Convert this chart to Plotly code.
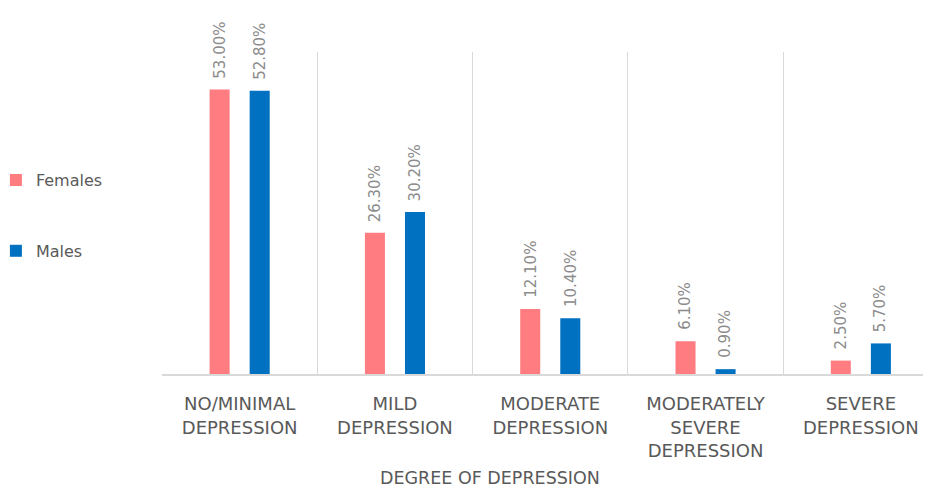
import plotly.graph_objects as go

categories = [
    "NO/MINIMAL<br>DEPRESSION",
    "MILD<br>DEPRESSION",
    "MODERATE<br>DEPRESSION",
    "MODERATELY<br>SEVERE<br>DEPRESSION",
    "SEVERE<br>DEPRESSION",
]
females = [53.0, 26.3, 12.1, 6.1, 2.5]
males = [52.8, 30.2, 10.4, 0.9, 5.7]
x_title = "DEGREE OF DEPRESSION"

# page has an 8px body margin; size the figure so it fills the window
W, H = 923, 483
L, R, T, B = 154, 0, 44, 117
cat_px = 155.3
plot_w = W - L - R
plot_h = H - T - B
bargap = 0.484

series = [("Females", females, "#FF7C80", "f", -1), ("Males", males, "#0070C0", "m", 1)]

fig = go.Figure()
annotations = []
slot_offset = cat_px * (1 - bargap) / 4
for name, vals, color, grp, side in series:
    fig.add_trace(go.Bar(
        name=name, x=categories, y=vals, marker_color=color, marker_line_width=0,
        legendgroup=grp,
    ))
    for c, v in zip(categories, vals):
        annotations.append(dict(
            x=c, y=v, xref="x", yref="y", text=f"{v:.2f}%", textangle=-90,
            xanchor="center", yanchor="bottom", showarrow=False,
            xshift=side * slot_offset, yshift=9,
            font=dict(family="DejaVu Sans, sans-serif", size=15, color="#8c8c8c"),
        ))

annotations.append(dict(
    text=x_title, xref="paper", yref="paper",
    x=(482 - L) / plot_w, y=(366 - 470) / plot_h,
    xanchor="center", yanchor="middle", showarrow=False,
    font=dict(family="DejaVu Sans, sans-serif", size=17.5, color="#595959"),
))

fig.update_layout(
    width=W, height=H,
    margin=dict(l=L, r=R, t=T, b=B, autoexpand=False),
    paper_bgcolor="white", plot_bgcolor="white",
    barmode="group", bargap=bargap, bargroupgap=0.5,
    font=dict(family="DejaVu Sans, sans-serif", color="#595959"),
    legend=dict(x=-0.216, xanchor="left", y=0.655, yanchor="top",
                font=dict(size=16, color="#595959"), tracegroupgap=47,
                bgcolor="rgba(0,0,0,0)"),
    xaxis=dict(
        type="category",
        range=[-0.5, -0.5 + plot_w / cat_px],
        tickson="boundaries", ticks="", showgrid=True, gridcolor="#d9d9d9", gridwidth=1,
        showline=True, linecolor="#d9d9d9", linewidth=1.5,
        tickfont=dict(size=18, color="#595959", family="DejaVu Sans, sans-serif"),
        ticklabelstandoff=13,
        zeroline=False,
    ),
    yaxis=dict(range=[0, 60], visible=False, showgrid=False, zeroline=False),
    annotations=annotations,
)

fig.write_html("out.html")
